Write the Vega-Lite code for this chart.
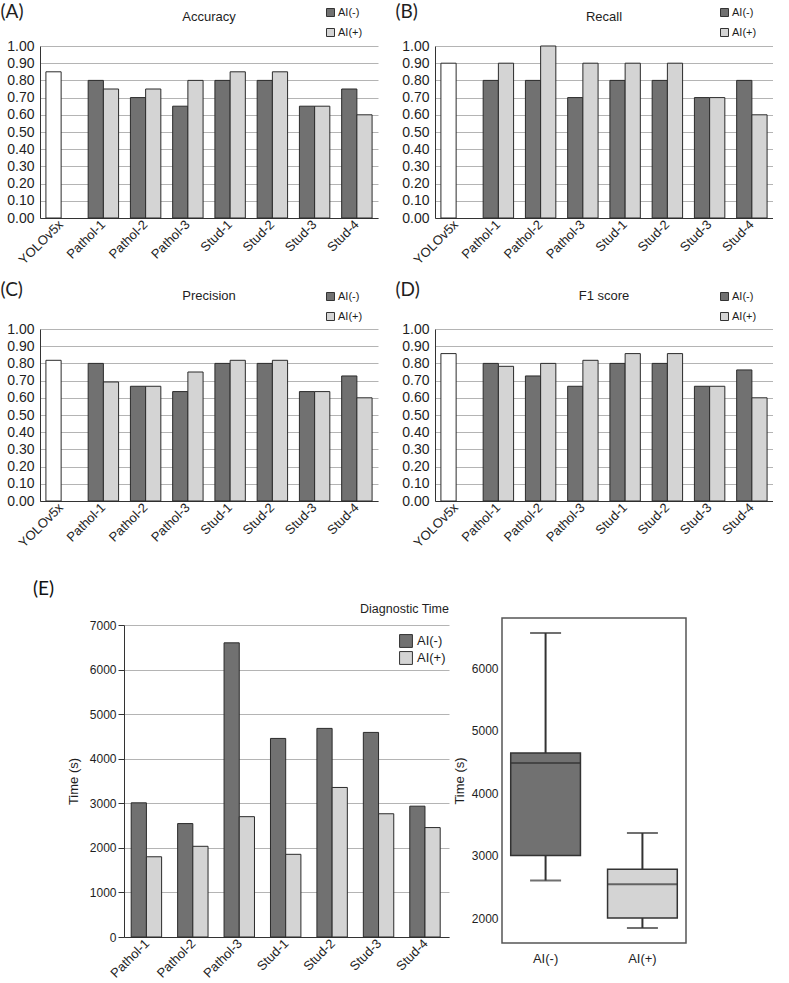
{
  "$schema": "https://vega.github.io/schema/vega-lite/v6.json",
  "background": "white",
  "padding": {"left": 0, "top": 2, "right": 0, "bottom": 0},
  "config": {
    "font": "Liberation Sans",
    "view": {"stroke": null},
    "axis": {"labelColor": "#1e1e1e", "titleColor": "#1e1e1e", "domainColor": "#333333", "gridColor": "#b4b4b4", "labelFont": "Liberation Sans", "titleFont": "Liberation Sans", "titleFontWeight": "normal"},
    "legend": {"labelFont": "Liberation Sans", "labelColor": "#1e1e1e"},
    "title": {"font": "Liberation Sans", "fontWeight": "normal", "color": "#1e1e1e"}
  },
  "datasets": {
    "scores": [
      {"metric": "Accuracy", "rater": "YOLOv5x", "series": "AI(-)", "value": 0.85},
      {"metric": "Accuracy", "rater": "Pathol-1", "series": "AI(-)", "value": 0.80},
      {"metric": "Accuracy", "rater": "Pathol-1", "series": "AI(+)", "value": 0.75},
      {"metric": "Accuracy", "rater": "Pathol-2", "series": "AI(-)", "value": 0.70},
      {"metric": "Accuracy", "rater": "Pathol-2", "series": "AI(+)", "value": 0.75},
      {"metric": "Accuracy", "rater": "Pathol-3", "series": "AI(-)", "value": 0.65},
      {"metric": "Accuracy", "rater": "Pathol-3", "series": "AI(+)", "value": 0.80},
      {"metric": "Accuracy", "rater": "Stud-1", "series": "AI(-)", "value": 0.80},
      {"metric": "Accuracy", "rater": "Stud-1", "series": "AI(+)", "value": 0.85},
      {"metric": "Accuracy", "rater": "Stud-2", "series": "AI(-)", "value": 0.80},
      {"metric": "Accuracy", "rater": "Stud-2", "series": "AI(+)", "value": 0.85},
      {"metric": "Accuracy", "rater": "Stud-3", "series": "AI(-)", "value": 0.65},
      {"metric": "Accuracy", "rater": "Stud-3", "series": "AI(+)", "value": 0.65},
      {"metric": "Accuracy", "rater": "Stud-4", "series": "AI(-)", "value": 0.75},
      {"metric": "Accuracy", "rater": "Stud-4", "series": "AI(+)", "value": 0.60},
      {"metric": "Recall", "rater": "YOLOv5x", "series": "AI(-)", "value": 0.90},
      {"metric": "Recall", "rater": "Pathol-1", "series": "AI(-)", "value": 0.80},
      {"metric": "Recall", "rater": "Pathol-1", "series": "AI(+)", "value": 0.90},
      {"metric": "Recall", "rater": "Pathol-2", "series": "AI(-)", "value": 0.80},
      {"metric": "Recall", "rater": "Pathol-2", "series": "AI(+)", "value": 1.00},
      {"metric": "Recall", "rater": "Pathol-3", "series": "AI(-)", "value": 0.70},
      {"metric": "Recall", "rater": "Pathol-3", "series": "AI(+)", "value": 0.90},
      {"metric": "Recall", "rater": "Stud-1", "series": "AI(-)", "value": 0.80},
      {"metric": "Recall", "rater": "Stud-1", "series": "AI(+)", "value": 0.90},
      {"metric": "Recall", "rater": "Stud-2", "series": "AI(-)", "value": 0.80},
      {"metric": "Recall", "rater": "Stud-2", "series": "AI(+)", "value": 0.90},
      {"metric": "Recall", "rater": "Stud-3", "series": "AI(-)", "value": 0.70},
      {"metric": "Recall", "rater": "Stud-3", "series": "AI(+)", "value": 0.70},
      {"metric": "Recall", "rater": "Stud-4", "series": "AI(-)", "value": 0.80},
      {"metric": "Recall", "rater": "Stud-4", "series": "AI(+)", "value": 0.60},
      {"metric": "Precision", "rater": "YOLOv5x", "series": "AI(-)", "value": 0.818},
      {"metric": "Precision", "rater": "Pathol-1", "series": "AI(-)", "value": 0.80},
      {"metric": "Precision", "rater": "Pathol-1", "series": "AI(+)", "value": 0.692},
      {"metric": "Precision", "rater": "Pathol-2", "series": "AI(-)", "value": 0.667},
      {"metric": "Precision", "rater": "Pathol-2", "series": "AI(+)", "value": 0.667},
      {"metric": "Precision", "rater": "Pathol-3", "series": "AI(-)", "value": 0.636},
      {"metric": "Precision", "rater": "Pathol-3", "series": "AI(+)", "value": 0.75},
      {"metric": "Precision", "rater": "Stud-1", "series": "AI(-)", "value": 0.80},
      {"metric": "Precision", "rater": "Stud-1", "series": "AI(+)", "value": 0.818},
      {"metric": "Precision", "rater": "Stud-2", "series": "AI(-)", "value": 0.80},
      {"metric": "Precision", "rater": "Stud-2", "series": "AI(+)", "value": 0.818},
      {"metric": "Precision", "rater": "Stud-3", "series": "AI(-)", "value": 0.636},
      {"metric": "Precision", "rater": "Stud-3", "series": "AI(+)", "value": 0.636},
      {"metric": "Precision", "rater": "Stud-4", "series": "AI(-)", "value": 0.727},
      {"metric": "Precision", "rater": "Stud-4", "series": "AI(+)", "value": 0.60},
      {"metric": "F1 score", "rater": "YOLOv5x", "series": "AI(-)", "value": 0.857},
      {"metric": "F1 score", "rater": "Pathol-1", "series": "AI(-)", "value": 0.80},
      {"metric": "F1 score", "rater": "Pathol-1", "series": "AI(+)", "value": 0.783},
      {"metric": "F1 score", "rater": "Pathol-2", "series": "AI(-)", "value": 0.727},
      {"metric": "F1 score", "rater": "Pathol-2", "series": "AI(+)", "value": 0.80},
      {"metric": "F1 score", "rater": "Pathol-3", "series": "AI(-)", "value": 0.667},
      {"metric": "F1 score", "rater": "Pathol-3", "series": "AI(+)", "value": 0.818},
      {"metric": "F1 score", "rater": "Stud-1", "series": "AI(-)", "value": 0.80},
      {"metric": "F1 score", "rater": "Stud-1", "series": "AI(+)", "value": 0.857},
      {"metric": "F1 score", "rater": "Stud-2", "series": "AI(-)", "value": 0.80},
      {"metric": "F1 score", "rater": "Stud-2", "series": "AI(+)", "value": 0.857},
      {"metric": "F1 score", "rater": "Stud-3", "series": "AI(-)", "value": 0.667},
      {"metric": "F1 score", "rater": "Stud-3", "series": "AI(+)", "value": 0.667},
      {"metric": "F1 score", "rater": "Stud-4", "series": "AI(-)", "value": 0.762},
      {"metric": "F1 score", "rater": "Stud-4", "series": "AI(+)", "value": 0.60}
    ],
    "times": [
      {"rater": "Pathol-1", "series": "AI(-)", "time": 3010},
      {"rater": "Pathol-1", "series": "AI(+)", "time": 1800},
      {"rater": "Pathol-2", "series": "AI(-)", "time": 2545},
      {"rater": "Pathol-2", "series": "AI(+)", "time": 2035},
      {"rater": "Pathol-3", "series": "AI(-)", "time": 6600},
      {"rater": "Pathol-3", "series": "AI(+)", "time": 2700},
      {"rater": "Stud-1", "series": "AI(-)", "time": 4455},
      {"rater": "Stud-1", "series": "AI(+)", "time": 1855},
      {"rater": "Stud-2", "series": "AI(-)", "time": 4680},
      {"rater": "Stud-2", "series": "AI(+)", "time": 3355},
      {"rater": "Stud-3", "series": "AI(-)", "time": 4590},
      {"rater": "Stud-3", "series": "AI(+)", "time": 2765},
      {"rater": "Stud-4", "series": "AI(-)", "time": 2935},
      {"rater": "Stud-4", "series": "AI(+)", "time": 2455}
    ],
    "timeSummary": [
      {"group": "AI(-)", "lower": 2600, "q1": 3000, "median": 4480, "q3": 4640, "upper": 6560},
      {"group": "AI(+)", "lower": 1840, "q1": 2000, "median": 2540, "q3": 2780, "upper": 3360}
    ]
  },
  "spacing": 30,
  "resolve": {"scale": {"color": "independent"}, "legend": {"color": "independent"}},
  "vconcat": [
    {
      "columns": 2,
      "spacing": {"row": 13, "column": 17},
      "resolve": {"scale": {"color": "independent", "x": "independent", "y": "independent"}, "legend": {"color": "independent"}},
      "concat": [
        {
          "width": 338, "height": 172,
          "data": {"name": "scores"},
          "transform": [{"filter": "datum.metric === 'Accuracy'"}],
          "title": {"text": "Accuracy", "anchor": "middle", "frame": "group", "fontSize": 13, "baseline": "alphabetic", "offset": -32},
          "mark": {"type": "bar", "stroke": "#2b2b2b", "strokeWidth": 1},
          "encoding": {
            "x": {"field": "rater", "type": "nominal", "sort": null, "title": null, "scale": {"paddingInner": 0.28, "paddingOuter": 0.14}, "axis": {"labelAngle": -45, "labelAlign": "right", "labelBaseline": "middle", "labelFontSize": 13, "labelPadding": 4, "ticks": false}},
            "xOffset": {"field": "series", "type": "nominal", "scale": {"domain": ["AI(-)", "AI(+)"], "paddingInner": 0}},
            "y": {"field": "value", "type": "quantitative", "scale": {"domain": [0, 1], "nice": false}, "axis": {"title": "(A)", "titleAngle": 0, "titleAlign": "left", "titleBaseline": "top", "titleX": -40, "titleY": -44, "titleFont": "Lato", "titleFontSize": 19, "values": [0, 0.1, 0.2, 0.3, 0.4, 0.5, 0.6, 0.7, 0.8, 0.9, 1], "format": ".2f", "labelFontSize": 14, "labelPadding": 6, "ticks": false, "grid": true}},
            "color": {"field": "series", "type": "nominal", "condition": {"test": "datum.rater === 'YOLOv5x'", "value": "#ffffff"}, "scale": {"domain": ["AI(-)", "AI(+)"], "range": ["#717171", "#d4d4d4"]}, "legend": {"title": null, "orient": "none", "legendX": 285, "legendY": -39, "symbolType": "square", "symbolSize": 64, "symbolStrokeColor": "#333333", "symbolStrokeWidth": 1, "labelFontSize": 11, "rowPadding": 7, "labelOffset": 2, "padding": 0}}
          }
        },
        {
          "width": 338, "height": 172,
          "data": {"name": "scores"},
          "transform": [{"filter": "datum.metric === 'Recall'"}],
          "title": {"text": "Recall", "anchor": "middle", "frame": "group", "fontSize": 13, "baseline": "alphabetic", "offset": -32},
          "mark": {"type": "bar", "stroke": "#2b2b2b", "strokeWidth": 1},
          "encoding": {
            "x": {"field": "rater", "type": "nominal", "sort": null, "title": null, "scale": {"paddingInner": 0.28, "paddingOuter": 0.14}, "axis": {"labelAngle": -45, "labelAlign": "right", "labelBaseline": "middle", "labelFontSize": 13, "labelPadding": 4, "ticks": false}},
            "xOffset": {"field": "series", "type": "nominal", "scale": {"domain": ["AI(-)", "AI(+)"], "paddingInner": 0}},
            "y": {"field": "value", "type": "quantitative", "scale": {"domain": [0, 1], "nice": false}, "axis": {"title": "(B)", "titleAngle": 0, "titleAlign": "left", "titleBaseline": "top", "titleX": -40, "titleY": -44, "titleFont": "Lato", "titleFontSize": 19, "values": [0, 0.1, 0.2, 0.3, 0.4, 0.5, 0.6, 0.7, 0.8, 0.9, 1], "format": ".2f", "labelFontSize": 14, "labelPadding": 6, "ticks": false, "grid": true}},
            "color": {"field": "series", "type": "nominal", "condition": {"test": "datum.rater === 'YOLOv5x'", "value": "#ffffff"}, "scale": {"domain": ["AI(-)", "AI(+)"], "range": ["#717171", "#d4d4d4"]}, "legend": {"title": null, "orient": "none", "legendX": 284, "legendY": -39, "symbolType": "square", "symbolSize": 64, "symbolStrokeColor": "#333333", "symbolStrokeWidth": 1, "labelFontSize": 11, "rowPadding": 7, "labelOffset": 2, "padding": 0}}
          }
        },
        {
          "width": 338, "height": 172,
          "data": {"name": "scores"},
          "transform": [{"filter": "datum.metric === 'Precision'"}],
          "title": {"text": "Precision", "anchor": "middle", "frame": "group", "fontSize": 13, "baseline": "alphabetic", "offset": -33},
          "mark": {"type": "bar", "stroke": "#2b2b2b", "strokeWidth": 1},
          "encoding": {
            "x": {"field": "rater", "type": "nominal", "sort": null, "title": null, "scale": {"paddingInner": 0.28, "paddingOuter": 0.14}, "axis": {"labelAngle": -45, "labelAlign": "right", "labelBaseline": "middle", "labelFontSize": 13, "labelPadding": 4, "ticks": false}},
            "xOffset": {"field": "series", "type": "nominal", "scale": {"domain": ["AI(-)", "AI(+)"], "paddingInner": 0}},
            "y": {"field": "value", "type": "quantitative", "scale": {"domain": [0, 1], "nice": false}, "axis": {"title": "(C)", "titleAngle": 0, "titleAlign": "left", "titleBaseline": "top", "titleX": -40, "titleY": -49, "titleFont": "Lato", "titleFontSize": 19, "values": [0, 0.1, 0.2, 0.3, 0.4, 0.5, 0.6, 0.7, 0.8, 0.9, 1], "format": ".2f", "labelFontSize": 14, "labelPadding": 6, "ticks": false, "grid": true}},
            "color": {"field": "series", "type": "nominal", "condition": {"test": "datum.rater === 'YOLOv5x'", "value": "#ffffff"}, "scale": {"domain": ["AI(-)", "AI(+)"], "range": ["#717171", "#d4d4d4"]}, "legend": {"title": null, "orient": "none", "legendX": 285, "legendY": -38, "symbolType": "square", "symbolSize": 64, "symbolStrokeColor": "#333333", "symbolStrokeWidth": 1, "labelFontSize": 11, "rowPadding": 7, "labelOffset": 2, "padding": 0}}
          }
        },
        {
          "width": 338, "height": 172,
          "data": {"name": "scores"},
          "transform": [{"filter": "datum.metric === 'F1 score'"}],
          "title": {"text": "F1 score", "anchor": "middle", "frame": "group", "fontSize": 13, "baseline": "alphabetic", "offset": -33},
          "mark": {"type": "bar", "stroke": "#2b2b2b", "strokeWidth": 1},
          "encoding": {
            "x": {"field": "rater", "type": "nominal", "sort": null, "title": null, "scale": {"paddingInner": 0.28, "paddingOuter": 0.14}, "axis": {"labelAngle": -45, "labelAlign": "right", "labelBaseline": "middle", "labelFontSize": 13, "labelPadding": 4, "ticks": false}},
            "xOffset": {"field": "series", "type": "nominal", "scale": {"domain": ["AI(-)", "AI(+)"], "paddingInner": 0}},
            "y": {"field": "value", "type": "quantitative", "scale": {"domain": [0, 1], "nice": false}, "axis": {"title": "(D)", "titleAngle": 0, "titleAlign": "left", "titleBaseline": "top", "titleX": -40, "titleY": -49, "titleFont": "Lato", "titleFontSize": 19, "values": [0, 0.1, 0.2, 0.3, 0.4, 0.5, 0.6, 0.7, 0.8, 0.9, 1], "format": ".2f", "labelFontSize": 14, "labelPadding": 6, "ticks": false, "grid": true}},
            "color": {"field": "series", "type": "nominal", "condition": {"test": "datum.rater === 'YOLOv5x'", "value": "#ffffff"}, "scale": {"domain": ["AI(-)", "AI(+)"], "range": ["#717171", "#d4d4d4"]}, "legend": {"title": null, "orient": "none", "legendX": 284, "legendY": -38, "symbolType": "square", "symbolSize": 64, "symbolStrokeColor": "#333333", "symbolStrokeWidth": 1, "labelFontSize": 11, "rowPadding": 7, "labelOffset": 2, "padding": 0}}
          }
        }
      ]
    },
    {
      "spacing": 3,
      "resolve": {"scale": {"color": "independent", "x": "independent", "y": "independent"}, "legend": {"color": "independent"}},
      "hconcat": [
        {
          "width": 24, "height": 20,
          "data": {"values": []},
          "mark": "point",
          "title": {"text": "(E)", "anchor": "start", "frame": "group", "font": "Lato", "fontSize": 19, "dx": -7, "baseline": "top", "offset": 19, "color": "#111111"}
        },
        {
          "width": 325, "height": 319,
          "data": {"name": "times"},
          "title": {"text": "Diagnostic Time", "anchor": "end", "frame": "group", "fontSize": 12.5, "baseline": "alphabetic", "offset": -7},
          "mark": {"type": "bar", "stroke": "#2b2b2b", "strokeWidth": 1},
          "encoding": {
            "x": {"field": "rater", "type": "nominal", "sort": null, "title": null, "scale": {"paddingInner": 0.31, "paddingOuter": 0.155}, "axis": {"labelAngle": -45, "labelAlign": "right", "labelBaseline": "middle", "labelFontSize": 13, "labelPadding": 4, "ticks": false}},
            "xOffset": {"field": "series", "type": "nominal", "scale": {"domain": ["AI(-)", "AI(+)"], "paddingInner": 0}},
            "y": {"field": "time", "type": "quantitative", "scale": {"domain": [0, 7000], "nice": false, "range": [319, 7]}, "axis": {"title": "Time (s)", "titleFontSize": 13, "titlePadding": 9, "values": [0, 1000, 2000, 3000, 4000, 5000, 6000, 7000], "format": "d", "labelFontSize": 12, "labelPadding": 2, "tickSize": 6, "tickColor": "#333333", "grid": true}},
            "color": {"field": "series", "type": "nominal", "scale": {"domain": ["AI(-)", "AI(+)"], "range": ["#717171", "#d4d4d4"]}, "legend": {"title": null, "orient": "none", "legendX": 275, "legendY": 16, "symbolType": "square", "symbolSize": 165, "symbolStrokeColor": "#333333", "symbolStrokeWidth": 1, "labelFontSize": 13, "rowPadding": -1, "labelOffset": 4, "padding": 0}}
          }
        },
        {
          "width": 184, "height": 325,
          "data": {"name": "timeSummary"},
          "view": {"stroke": "#555555", "strokeWidth": 1.5},
          "encoding": {
            "x": {"field": "group", "type": "nominal", "sort": null, "title": null, "scale": {"paddingInner": 0.28, "paddingOuter": 0.09}, "axis": {"labelAngle": 0, "labelFontSize": 13, "labelPadding": 9, "ticks": false, "domain": false}}
          },
          "layer": [
            {
              "mark": {"type": "rule", "color": "#333333", "strokeWidth": 2},
              "encoding": {
                "y": {"field": "lower", "type": "quantitative", "title": "Time (s)", "scale": {"domain": [1600, 6800], "nice": false}, "axis": {"values": [2000, 3000, 4000, 5000, 6000], "format": "d", "labelFontSize": 12, "labelPadding": 4, "ticks": false, "domain": false, "grid": false, "titleFontSize": 13, "titlePadding": 5}},
                "y2": {"field": "upper"}
              }
            },
            {
              "mark": {"type": "bar", "stroke": "#333333", "strokeWidth": 1.5},
              "encoding": {
                "y": {"field": "q1", "type": "quantitative", "title": "Time (s)"},
                "y2": {"field": "q3"},
                "color": {"field": "group", "type": "nominal", "scale": {"domain": ["AI(-)", "AI(+)"], "range": ["#717171", "#d4d4d4"]}, "legend": null}
              }
            },
            {
              "mark": {"type": "tick", "color": "#333333", "thickness": 2, "size": 70},
              "encoding": {"y": {"field": "median", "type": "quantitative", "title": "Time (s)"}}
            },
            {
              "mark": {"type": "tick", "color": "#333333", "thickness": 2, "size": 31},
              "encoding": {"y": {"field": "lower", "type": "quantitative", "title": "Time (s)"}}
            },
            {
              "mark": {"type": "tick", "color": "#333333", "thickness": 2, "size": 31},
              "encoding": {"y": {"field": "upper", "type": "quantitative", "title": "Time (s)"}}
            }
          ]
        }
      ]
    }
  ]
}
